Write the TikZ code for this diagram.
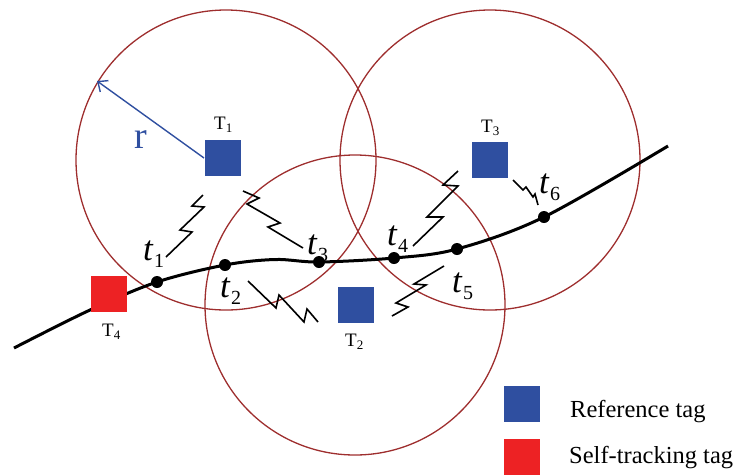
\documentclass[tikz,border=0pt]{standalone}
\usepackage{fontspec}
\setmainfont{Liberation Serif}
\usetikzlibrary{arrows.meta}
\definecolor{ringred}{RGB}{158,46,46}
\definecolor{tagblue}{RGB}{47,79,160}
\definecolor{tagred}{RGB}{237,34,36}
\newcommand{\tlab}[1]{\textit{t}\kern0.5pt\raisebox{-7pt}{\fontsize{20}{20}\selectfont #1}}
\newcommand{\Tlab}[1]{T\raisebox{-3pt}{\fontsize{13}{13}\selectfont #1}}
\tikzset{
  ring/.style={draw=ringred, line width=1.3pt},
  reftag/.style={fill=tagblue, draw=none, minimum size=36pt, inner sep=0pt},
  selftag/.style={fill=tagred, draw=none, minimum size=36pt, inner sep=0pt},
  dotpt/.style={circle, fill=black, minimum size=12pt, inner sep=0pt},
  tlabel/.style={font=\fontsize{35}{35}\selectfont, inner sep=0pt, anchor=base west},
  Tlabel/.style={font=\fontsize{19}{19}\selectfont, inner sep=0pt, anchor=base west},
  legtext/.style={font=\fontsize{24.5}{24.5}\selectfont, inner sep=0pt, anchor=base west},
  bolt/.style={draw=black, line width=1.6pt, line join=miter},
  track/.style={draw=black, line width=3pt},
  radius arrow/.style={draw=tagblue, line width=1.4pt, -{Straight Barb[length=8pt,width=14pt,line width=1.4pt]}}
}
\begin{document}
\begin{tikzpicture}[x=1pt,y=-1pt]
\useasboundingbox (0,0) rectangle (739,475);
% range circles
\draw[ring] (226,160) circle (150pt);
\draw[ring] (355,305) circle (150pt);
\draw[ring] (490,160) circle (150pt);
% trajectory
\draw[track] plot[smooth, tension=0.55] coordinates {(14,348) (90,310) (157,282) (225,265) (275,259.5) (319,262) (394,258) (457,249) (544,217) (668,146)};
% tags
\node[reftag] (T1) at (222.5,157.5) {};
\node[reftag] (T2) at (355.5,304.5) {};
\node[reftag] (T3) at (490,159.5) {};
\node[selftag] (T4) at (108.5,294) {};
% tag labels
\node[Tlabel] (lT1) at (214,129) {\Tlab{1}};
\node[Tlabel] (lT2) at (345,346) {\Tlab{2}};
\node[Tlabel] (lT3) at (481,132) {\Tlab{3}};
\node[Tlabel] (lT4) at (102,336) {\Tlab{4}};
% radius arrow
\coordinate (rs) at (204,158);
\coordinate (rim) at (97,81);
\draw[radius arrow] (rs) -- (rim);
\node[font=\fontsize{38}{38}\selectfont, text=tagblue, inner sep=0pt, anchor=base west] (r) at (134,148) {r};
% track points
\node[dotpt] (p1) at (157,282) {};
\node[dotpt] (p2) at (225,265) {};
\node[dotpt] (p3) at (319,262) {};
\node[dotpt] (p4) at (394,258) {};
\node[dotpt] (p5) at (457,249) {};
\node[dotpt] (p6) at (544,217) {};
\node[tlabel] (l1) at (143,260) {\tlab{1}};
\node[tlabel] (l2) at (220,297) {\tlab{2}};
\node[tlabel] (l3) at (307,254) {\tlab{3}};
\node[tlabel] (l4) at (387,245) {\tlab{4}};
\node[tlabel] (l5) at (452,292) {\tlab{5}};
\node[tlabel] (l6) at (539,193) {\tlab{6}};
% signal bolts
\draw[bolt] (203,195) -- (192,206) -- (204,207) -- (180,230) -- (192,232) -- (166,257);
\draw[bolt] (243,191) -- (259,198) -- (247,204) -- (280,223) -- (268,227) -- (303,248);
\draw[bolt] (248,281) -- (276,308) -- (279,295) -- (304,322) -- (307,309) -- (318,322);
\draw[bolt] (458,171) -- (443,185) -- (458,186) -- (427,217) -- (443,217) -- (413,246);
\draw[bolt] (444,266) -- (414,284) -- (426,285) -- (396,303) -- (408,307) -- (392,316);
\draw[bolt] (513,180) -- (523,190) -- (526,187) -- (533,197) -- (535,194) -- (538,205);
% legend
\node[reftag] (LB) at (522,403.5) {};
\node[selftag] (LR) at (522,457) {};
\node[legtext] (LBt) at (570,417) {Reference tag};
\node[legtext] (LRt) at (569,463) {Self-tracking tag};
\end{tikzpicture}
\end{document}
